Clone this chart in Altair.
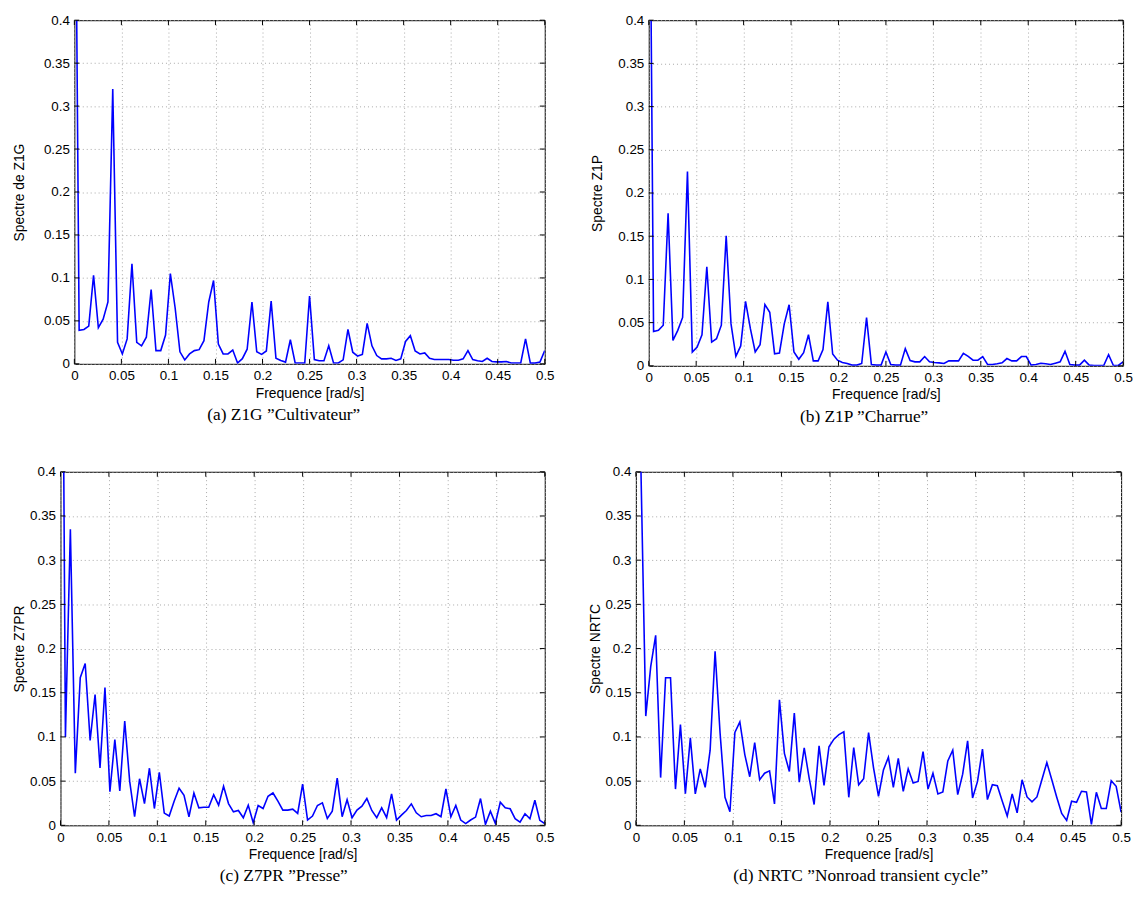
import altair as alt
import pandas as pd

N_BINS = 99
F_MAX = 0.5

x_ticks = [0, 0.05, 0.1, 0.15, 0.2, 0.25, 0.3, 0.35, 0.4, 0.45, 0.5]
y_ticks = [0, 0.05, 0.1, 0.15, 0.2, 0.25, 0.3, 0.35, 0.4]

spec_z1g = [
    0.75, 0.039, 0.040, 0.044, 0.103, 0.042, 0.052, 0.072, 0.320, 0.025,
    0.0115, 0.029, 0.1165, 0.025, 0.021, 0.031, 0.0865, 0.0154, 0.0154, 0.0335,
    0.105, 0.065, 0.014, 0.0046, 0.0115, 0.0154, 0.0165, 0.027, 0.072, 0.097,
    0.023, 0.0115, 0.0115, 0.016, 0.001, 0.006, 0.017, 0.072, 0.014, 0.011,
    0.015, 0.073, 0.0065, 0.004, 0.002, 0.028, 0.001, 0.001, 0.001, 0.079,
    0.005, 0.0035, 0.0035, 0.021, 0.001, 0.001, 0.0046, 0.040, 0.0135, 0.009,
    0.011, 0.047, 0.021, 0.0096, 0.0058, 0.0058, 0.0065, 0.004, 0.0058, 0.026,
    0.0327, 0.015, 0.0115, 0.0127, 0.0065, 0.005, 0.005, 0.005, 0.005, 0.0042,
    0.0042, 0.0058, 0.0154, 0.005, 0.0035, 0.0027, 0.0065, 0.0027, 0.0023, 0.0023,
    0.0027, 0.001, 0.001, 0.001, 0.029, 0.0008, 0.0008, 0.002, 0.0154,
]

spec_z1p = [
    0.75, 0.0397, 0.041, 0.047, 0.1765, 0.0294, 0.041, 0.056, 0.225, 0.016,
    0.0218, 0.036, 0.1146, 0.0275, 0.0313, 0.047, 0.1505, 0.0485, 0.011, 0.023,
    0.0745, 0.043, 0.016, 0.0245, 0.071, 0.062, 0.014, 0.0149, 0.0485, 0.0707,
    0.016, 0.0076, 0.0153, 0.036, 0.0057, 0.0057, 0.0187, 0.074, 0.0137, 0.0065,
    0.0038, 0.0027, 0.0008, 0.0008, 0.0027, 0.0558, 0.0015, 0.0008, 0.0008, 0.016,
    0.0015, 0.0008, 0.0008, 0.0199, 0.0061, 0.0046, 0.0046, 0.0107, 0.0046, 0.0038,
    0.0034, 0.0027, 0.0057, 0.0057, 0.0057, 0.0145, 0.011, 0.0065, 0.0065, 0.0107,
    0.0015, 0.0015, 0.0023, 0.0034, 0.0084, 0.0057, 0.0057, 0.0107, 0.0107, 0.0008,
    0.0015, 0.003, 0.0023, 0.0015, 0.003, 0.0046, 0.0168, 0.0015, 0.0008, 0.0008,
    0.0065, 0.0008, 0.0004, 0.0004, 0.0004, 0.013, 0.0004, 0.0004, 0.0046,
]

spec_z7pr = [
    1.0, 0.1, 0.335, 0.059, 0.167, 0.183, 0.096, 0.148, 0.065, 0.156,
    0.038, 0.097, 0.039, 0.118, 0.050, 0.0097, 0.0527, 0.0246, 0.0646, 0.019,
    0.060, 0.0138, 0.0105, 0.0273, 0.042, 0.034, 0.0097, 0.0366, 0.0198, 0.0205,
    0.0205, 0.0347, 0.0228, 0.0441, 0.0246, 0.0153, 0.0168, 0.0086, 0.0228, 0.003,
    0.0224, 0.019, 0.0329, 0.0366, 0.0273, 0.0172, 0.0172, 0.0183, 0.0135, 0.0467,
    0.006, 0.0105, 0.0224, 0.0254, 0.0078, 0.016, 0.0534, 0.0097, 0.029, 0.0086,
    0.0172, 0.0217, 0.0303, 0.0168, 0.0086, 0.0198, 0.0086, 0.0355, 0.006, 0.0116,
    0.0168, 0.0243, 0.0142, 0.0097, 0.0112, 0.0112, 0.0131, 0.0097, 0.0411, 0.0097,
    0.0224, 0.006, 0.0019, 0.006, 0.0093, 0.0303, 0.0011, 0.016, 0.0022, 0.0261,
    0.0198, 0.0187, 0.0075, 0.0037, 0.0131, 0.0075, 0.0284, 0.0056, 0.0019,
]

spec_nrtc = [
    1.0, 0.41, 0.1236, 0.1796, 0.215, 0.054, 0.167, 0.167, 0.041, 0.114,
    0.0358, 0.099, 0.0355, 0.0639, 0.043, 0.085, 0.197, 0.105, 0.0317, 0.0153,
    0.105, 0.117, 0.080, 0.055, 0.0937, 0.0515, 0.059, 0.0616, 0.0243, 0.142,
    0.0814, 0.0609, 0.127, 0.0489, 0.0877, 0.0534, 0.0235, 0.090, 0.0452, 0.0889,
    0.0975, 0.1027, 0.1057, 0.0317, 0.088, 0.0459, 0.0527, 0.105, 0.065, 0.0329,
    0.0627, 0.077, 0.043, 0.0758, 0.0385, 0.0639, 0.0478, 0.0497, 0.0833, 0.0411,
    0.059, 0.0355, 0.0377, 0.0728, 0.0851, 0.0347, 0.0579, 0.0956, 0.031, 0.0497,
    0.0863, 0.0291, 0.046, 0.0448, 0.0273, 0.0105, 0.0355, 0.0142, 0.0515, 0.0321,
    0.0265, 0.0321, 0.0515, 0.071, 0.0515, 0.0317, 0.0134, 0.0056, 0.0273, 0.0261,
    0.0385, 0.0377, 0.0011, 0.0373, 0.019, 0.019, 0.0504, 0.0441, 0.0149,
]

freq = [k * F_MAX / (N_BINS - 1) for k in range(N_BINS)]

SANS = "Liberation Sans"
SERIF = "Liberation Serif"
TICK_LEN = 5


def panel(vals, ytitle, caption, W, H, ytitle_pad, cap_dx, lead=None):
    df = pd.DataFrame({"f": freq, "s": vals})
    xscale = alt.Scale(domain=[0, 0.5], nice=False, zero=False)
    yscale = alt.Scale(domain=[0, 0.4], nice=False, zero=False)
    xaxis = alt.Axis(values=x_ticks, format="~g", title="Frequence [rad/s]",
                     labelFlush=False, labelOverlap=False, labelPadding=5,
                     titlePadding=4)
    yaxis = alt.Axis(values=y_ticks, format="~g", title=ytitle,
                     labelFlush=False, labelOverlap=False, labelPadding=5,
                     titlePadding=ytitle_pad)
    line = alt.Chart(df).mark_line(color="#0000ff", strokeWidth=1.6, clip=True).encode(
        x=alt.X("f:Q", scale=xscale, axis=xaxis, title="Frequence [rad/s]"),
        y=alt.Y("s:Q", scale=yscale, axis=yaxis, title=ytitle),
    )
    xt = pd.DataFrame({"f": x_ticks})
    yt = pd.DataFrame({"s": y_ticks})
    tick_bottom = alt.Chart(xt).mark_rule(color="black", strokeWidth=1).encode(
        x=alt.X("f:Q", scale=xscale, axis=xaxis, title="Frequence [rad/s]"),
        y=alt.value(H), y2=alt.value(H - TICK_LEN))
    tick_top = alt.Chart(xt).mark_rule(color="black", strokeWidth=1).encode(
        x=alt.X("f:Q", scale=xscale, axis=xaxis, title="Frequence [rad/s]"),
        y=alt.value(0), y2=alt.value(TICK_LEN))
    tick_left = alt.Chart(yt).mark_rule(color="black", strokeWidth=1).encode(
        y=alt.Y("s:Q", scale=yscale, axis=yaxis, title=ytitle),
        x=alt.value(0), x2=alt.value(TICK_LEN))
    tick_right = alt.Chart(yt).mark_rule(color="black", strokeWidth=1).encode(
        y=alt.Y("s:Q", scale=yscale, axis=yaxis, title=ytitle),
        x=alt.value(W), x2=alt.value(W - TICK_LEN))
    layers = [line, tick_bottom, tick_top, tick_left, tick_right]
    if lead is not None:
        # transparent spacer that sets the gap to the left-hand panel
        spacer = alt.Chart(pd.DataFrame({"z": [0]})).mark_rule(
            color="white", opacity=0, strokeWidth=1).encode(
            x=alt.value(-lead), x2=alt.value(-lead + 1), y=alt.value(0), y2=alt.value(1))
        layers.append(spacer)
    return alt.layer(*layers).properties(
        width=W, height=H,
        title=alt.TitleParams(text=caption, orient="bottom", anchor="middle", frame="group",
                              font=SERIF, fontSize=17.5, fontWeight="normal", color="black",
                              offset=6, dx=cap_dx),
    )


def blank():
    return alt.Chart(pd.DataFrame({"z": [0]})).mark_rule(
        color="white", opacity=0).encode(
        x=alt.value(0), x2=alt.value(1), y=alt.value(0), y2=alt.value(1)
    ).properties(width=1, height=1, view=alt.ViewBackground(stroke="transparent"))


pa = panel(spec_z1g, "Spectre de Z1G", "(a)  Z1G \u201dCultivateur\u201d", 475, 347, 17.5, -26)
pb = panel(spec_z1p, "Spectre Z1P", "(b)  Z1P \u201dCharrue\u201d", 479, 349, 13.5, -22, lead=80.5)
pc = panel(spec_z7pr, "Spectre Z7PR", "(c)  Z7PR \u201dPresse\u201d", 489, 357, 3.5, -19)
pd_ = panel(spec_nrtc, "Spectre NRTC", "(d)  NRTC \u201dNonroad transient cycle\u201d", 490, 357, 2.5, -18, lead=81.5)

chart = alt.ConcatChart(
    concat=[blank(), pa, pb, blank(), pc, pd_], columns=3, align="none",
    spacing={"row": 38, "column": 0},
).properties(
    padding={"left": 0, "top": 0, "right": 0, "bottom": 0},
    background="white",
).configure_view(
    stroke="black", strokeWidth=1
).configure_axis(
    labelFont=SANS, labelFontSize=13.5, labelColor="black",
    titleFont=SANS, titleFontSize=14, titleFontWeight="normal", titleColor="black",
    domain=False, ticks=False, tickSize=0,
    grid=True, gridColor="#a8a8a8", gridDash=[1, 3], gridWidth=1,
)

chart.save("out.html", embed_options={"renderer": "svg", "actions": False})
